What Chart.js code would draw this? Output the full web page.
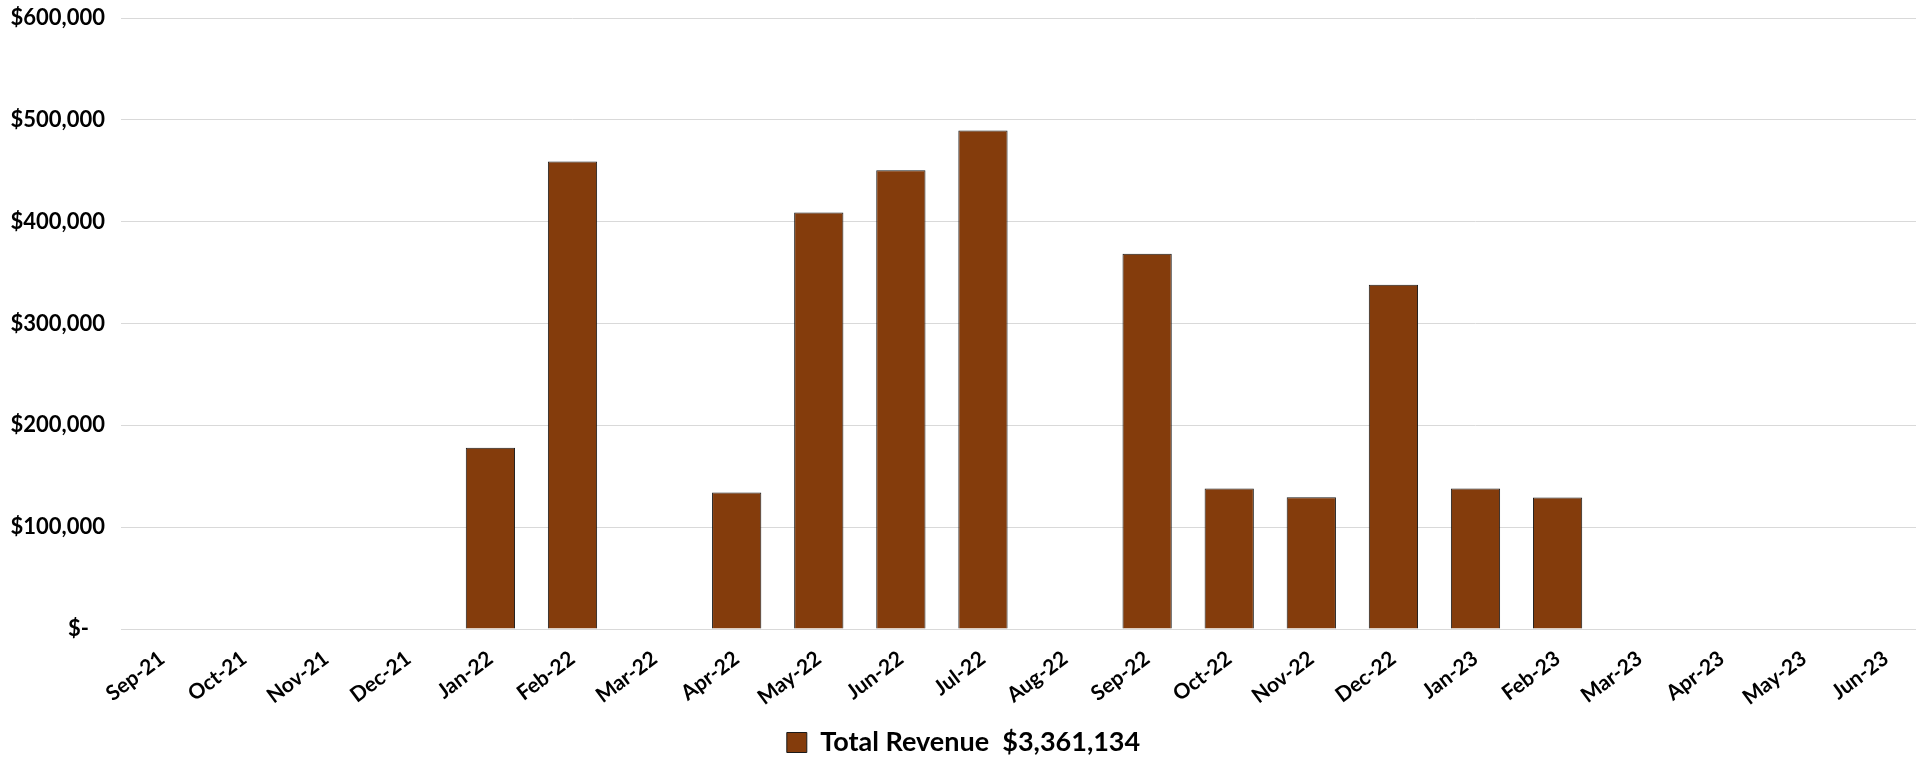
<!DOCTYPE html>
<html>
<head>
<meta charset="utf-8">
<script src="https://cdn.jsdelivr.net/npm/chart.js@4.4.1/dist/chart.umd.min.js"></script>
<style>
    html, body { margin: 0; padding: 0; background: #fff; overflow: hidden; }
    #wrap { width: 1932px; height: 758px; }
</style>
</head>
<body>
<div id="wrap"><canvas id="revenueChart"></canvas></div>
<script>
// ============================================
// Data
// ============================================
const months = [
    "Sep-21", "Oct-21", "Nov-21", "Dec-21",
    "Jan-22", "Feb-22", "Mar-22", "Apr-22", "May-22", "Jun-22",
    "Jul-22", "Aug-22", "Sep-22", "Oct-22", "Nov-22", "Dec-22",
    "Jan-23", "Feb-23", "Mar-23", "Apr-23", "May-23", "Jun-23",
];
const revenue = [
    null, null, null, null,
    178000, 459000, null, 134000, 409000, 450500,
    489500, null, 368500, 138000, 129500, 338000,
    138000, 129134, null, null, null, null,
];
const yTicks = [0, 100000, 200000, 300000, 400000, 500000, 600000];
const seriesName = "Total Revenue";

const total = revenue.reduce((s, v) => s + (v || 0), 0);
const fmtMoney = (v) => (v === 0 ? "$-   " : "$" + v.toLocaleString("en-US"));

// ============================================
// Chart
// ============================================
const ctx = document.getElementById("revenueChart").getContext("2d");
new Chart(ctx, {
    type: "bar",
    data: {
        labels: months,
        datasets: [
            {
                label: seriesName + "  " + fmtMoney(total),
                data: revenue,
                backgroundColor: "#843C0C",
                borderColor: "#1a1a1a",
                borderWidth: 1,
                categoryPercentage: 1,
                barPercentage: 0.6,
            },
        ],
    },
    options: {
        responsive: true,
        maintainAspectRatio: false,
        animation: false,
        layout: { padding: { top: 18, right: 5, left: 0, bottom: -8 } },
        plugins: {
            tooltip: { enabled: false },
            legend: {
                position: "bottom",
                labels: {
                    boxWidth: 20,
                    boxHeight: 20,
                    padding: 2,
                    color: "#000",
                    font: { family: "Lato, sans-serif", size: 27, weight: "bold" },
                },
            },
        },
        scales: {
            y: {
                min: 0,
                max: 600000,
                afterFit: (scale) => {
                    scale.width = 121;
                    // keep the tick padding from pushing the plot down
                    scale.paddingTop = 0;
                    scale.paddingBottom = 0;
                },
                afterBuildTicks: (scale) => {
                    scale.ticks = yTicks.map((v) => ({ value: v }));
                },
                border: { display: false },
                grid: { color: "#d9d9d9", lineWidth: 1, drawTicks: false },
                ticks: {
                    padding: 16,
                    color: "#000",
                    font: { family: "Lato, sans-serif", size: 22, weight: "bold" },
                    callback: (v) => fmtMoney(v),
                },
            },
            x: {
                afterFit: (scale) => { scale.height = 98; },
                border: { color: "#d9d9d9" },
                grid: { display: false, drawTicks: false },
                ticks: {
                    minRotation: 37,
                    maxRotation: 37,
                    autoSkip: false,
                    padding: 17,
                    color: "#000",
                    font: { family: "Lato, sans-serif", size: 21, weight: "bold" },
                },
            },
        },
    },
});
</script>
</body>
</html>
